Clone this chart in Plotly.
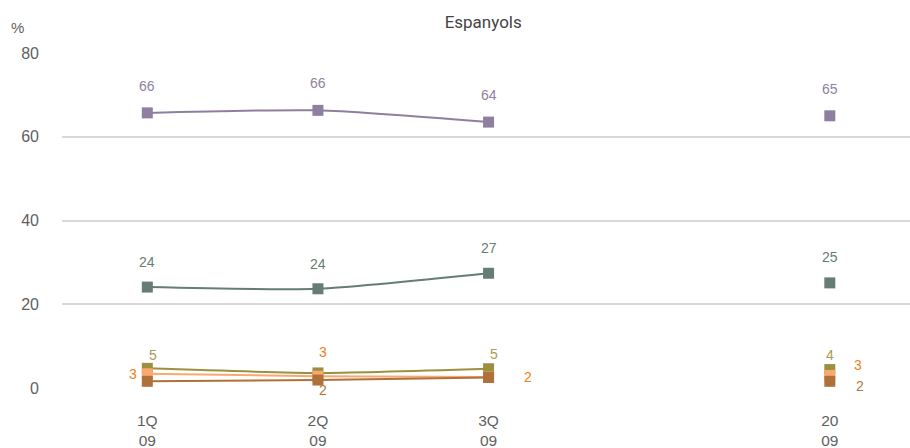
import plotly.graph_objects as go

# categories (blank slot keeps the gap before the annual value)
periods = ["1Q<br>09", "2Q<br>09", "3Q<br>09", " ", "20<br>09"]

series_names = ["Sèrie 1", "Sèrie 2", "Sèrie 3", "Sèrie 4", "Sèrie 5"]
s1 = [65.7, 66.3, 63.5, None, 65.0]
s2 = [24.1, 23.7, 27.4, None, 25.1]
s3 = [4.7, 3.6, 4.6, None, 4.4]
s4 = [3.4, 2.8, 2.6, None, 3.0]
s5 = [1.6, 1.9, 2.5, None, 1.6]
labels1 = ["66", "66", "64", "", "65"]
labels2 = ["24", "24", "27", "", "25"]
labels3 = ["5", "", "5", "", "4"]
labels4 = ["3", "3", "2", "", "3"]
labels5 = ["", "2", "", "", "2"]

values = [s1, s2, s3, s4, s5]
labels = [labels1, labels2, labels3, labels4, labels5]
line_cols = ["#8e7fa0", "#667d74", "#9c9040", "#f9a870", "#b0703a"]
text_cols = ["#8e82a0", "#667d74", "#a89a50", "#f08020", "#b07840"]
# label offsets in pixels per series/point (dx, dy)
shifts = [
    [(0, 27), (0, 27), (0, 27), None, (0, 27)],
    [(0, 25), (0, 25), (0, 25), None, (0, 26)],
    [(6, 13), None, (5, 15), None, (0, 15)],
    [(-14, 0), (5, 24), (39, 0), None, (28, 10)],
    [None, (5, -10), None, None, (30, -5)],
]

fig = go.Figure()
for name, ys, col in zip(series_names, values, line_cols):
    fig.add_trace(go.Scatter(
        x=periods, y=ys, name=name, mode="lines+markers",
        line=dict(color=col, width=2, shape="spline", smoothing=0.6),
        marker=dict(symbol="square", size=11, color=col),
        connectgaps=False, showlegend=False,
    ))

for ys, labs, col, sh in zip(values, labels, text_cols, shifts):
    for i, (x, y, t) in enumerate(zip(periods, ys, labs)):
        if not t or y is None:
            continue
        dx, dy = sh[i]
        fig.add_annotation(x=x, y=y, text=t, showarrow=False,
                           xshift=dx, yshift=dy,
                           font=dict(color=col, size=14))

fig.update_layout(
    width=910, height=448,
    margin=dict(l=62, r=0, t=53, b=60, autoexpand=False),
    paper_bgcolor="white", plot_bgcolor="white",
    font=dict(family="Liberation Sans, Arial, sans-serif", color="#5f5f5f", size=15),
    title=dict(text="Espanyols", x=0.531, xanchor="center", y=0.95, yanchor="middle",
               font=dict(family="Roboto, sans-serif", size=17, color="#444444")),
)
fig.add_annotation(text="%", xref="paper", yref="paper", x=-0.052, y=1.075,
                   xanchor="center", yanchor="middle", showarrow=False,
                   font=dict(size=15, color="#5f5f5f"))
fig.update_xaxes(type="category", categoryorder="array", categoryarray=periods,
                 range=[-0.5, 4.47], showgrid=False, showline=False, zeroline=False,
                 ticks="", ticklabelstandoff=21, tickfont=dict(size=15.5, color="#5f5f5f"))
fig.update_yaxes(range=[0, 80], tickvals=[0, 20, 40, 60, 80], showgrid=True,
                 gridcolor="#d9d9d9", gridwidth=2, zeroline=False, showline=False,
                 ticks="", ticklabelstandoff=22, tickfont=dict(size=16, color="#5f5f5f"))

fig.write_html("out.html", config={"displayModeBar": False},
               post_script="document.body.style.margin='0';")
